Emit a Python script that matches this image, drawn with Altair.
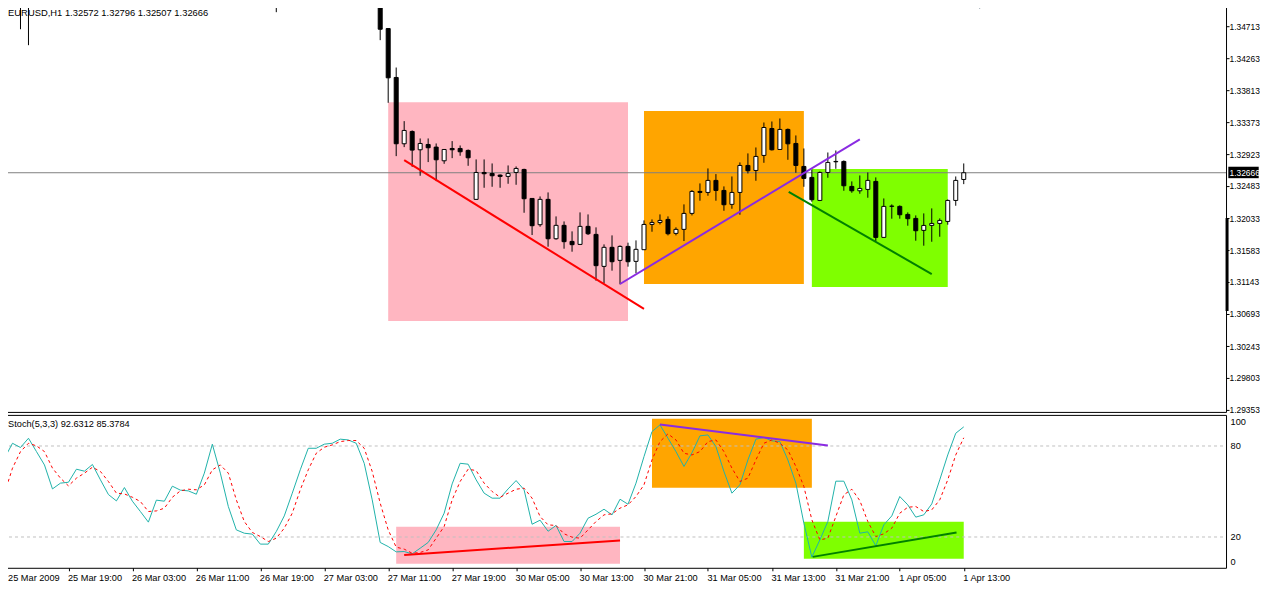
import altair as alt
import pandas as pd

FONT = "Liberation Sans"
FS = 9.2
AXIS_FS = 8.4

bar_index = [1, 2, 3, 32, 34] + list(range(47, 121))
open_ = [1.356,1.356,1.356,1.356,1.356,
 1.35400,1.34680,1.33997,1.33071,1.33243,1.32987,1.33061,1.33024,1.32833,1.33005,
 1.33005,1.32978,1.32294,1.32670,1.32656,1.32633,1.32615,1.32670,1.32712,1.32307,
 1.31940,1.32294,1.31744,1.31931,1.31707,1.31665,1.31917,1.31805,1.31358,1.31624,
 1.31442,1.31637,1.31428,1.31591,1.31944,1.31972,1.32014,1.31819,1.31875,1.32098,
 1.32405,1.32391,1.32559,1.32419,1.32224,1.32391,1.32768,1.32698,1.32908,1.33284,
 1.32991,1.33271,1.33075,1.32754,1.32601,1.32279,1.32670,1.32819,1.32824,1.32475,
 1.32414,1.32433,1.32545,1.31763,1.32196,1.32196,1.32084,1.32028,1.31861,1.31930,
 1.31958,1.31986,1.32279,1.32572]
high = [1.358,1.358,1.358,1.358,1.358,
 1.35600,1.34680,1.34136,1.33387,1.33257,1.33145,1.33145,1.33075,1.32991,1.33108,
 1.33047,1.32991,1.32852,1.32852,1.32796,1.32642,1.32768,1.32754,1.32722,1.32307,
 1.32335,1.32391,1.32056,1.31986,1.31847,1.32112,1.32084,1.31903,1.31665,1.31791,
 1.31651,1.31689,1.31721,1.32000,1.32014,1.32084,1.32056,1.31903,1.32224,1.32424,
 1.32517,1.32726,1.32647,1.32475,1.32614,1.32810,1.32936,1.33019,1.33368,1.33382,
 1.33424,1.33284,1.33187,1.33005,1.32712,1.32684,1.32949,1.32977,1.32838,1.32545,
 1.32628,1.32670,1.32601,1.32307,1.32224,1.32210,1.32112,1.32070,1.32098,1.32168,
 1.32028,1.32293,1.32614,1.32796]
low = [1.35006,1.34671,1.34448,1.35006,1.34909,
 1.34518,1.33643,1.32898,1.33024,1.32749,1.32624,1.32815,1.32549,1.32791,1.32870,
 1.32903,1.32763,1.32294,1.32456,1.32470,1.32456,1.32512,1.32498,1.32107,1.31796,
 1.31912,1.31633,1.31731,1.31605,1.31563,1.31656,1.31796,1.31158,1.31121,1.31298,
 1.31107,1.31354,1.31261,1.31591,1.31842,1.31944,1.31791,1.31791,1.31712,1.32070,
 1.32275,1.32345,1.32275,1.32135,1.32163,1.32079,1.32656,1.32554,1.32805,1.32977,
 1.32991,1.32847,1.32666,1.32470,1.32261,1.32270,1.32596,1.32721,1.32414,1.32386,
 1.32373,1.32317,1.31707,1.31763,1.32024,1.32024,1.31926,1.31716,1.31647,1.31702,
 1.31772,1.31940,1.32205,1.32507]
close = [1.355,1.355,1.355,1.355,1.355,
 1.34671,1.33992,1.33071,1.33257,1.32982,1.33075,1.33015,1.32847,1.32991,1.32987,
 1.32959,1.32875,1.32670,1.32652,1.32624,1.32615,1.32656,1.32726,1.32303,1.31926,
 1.32294,1.31744,1.31931,1.31703,1.31661,1.31917,1.31814,1.31368,1.31624,1.31423,
 1.31637,1.31423,1.31596,1.31944,1.31972,1.32000,1.31814,1.31875,1.32098,1.32405,
 1.32391,1.32559,1.32419,1.32219,1.32391,1.32768,1.32694,1.32894,1.33298,1.32987,
 1.33271,1.33070,1.32768,1.32587,1.32289,1.32670,1.32810,1.32824,1.32484,1.32414,
 1.32447,1.32559,1.31763,1.32196,1.32200,1.32079,1.32024,1.31856,1.31930,1.31958,
 1.32000,1.32279,1.32559,1.32666]

stoch_main = [71.9,81.8,79.0,85.1,76.3,67.5,51.7,55.5,56.1,64.7,
 63.4,67.8,57.7,48.0,43.8,52.6,43.6,36.8,29.8,44.3,
 43.6,53.5,50.9,50.4,48.2,62.1,81.2,62.1,40.1,24.7,
 22.5,21.9,15.3,15.3,23.6,33.9,48.9,64.3,78.5,78.5,
 81.2,81.8,84.5,84.0,81.8,68.6,44.5,16.4,13.7,10.2,
 10.4,8.9,12.6,16.4,24.7,35.7,55.0,68.6,68.0,57.7,
 48.9,45.6,45.6,51.7,57.2,51.1,28.4,31.1,23.8,27.6,
 17.0,17.0,22.5,32.4,35.0,38.3,34.6,44.9,41.6,55.5,
 73.0,89.5,93.9,85.1,76.3,66.5,75.5,86.7,87.3,79.6,
 63.2,48.9,54.4,70.8,84.5,85.6,83.4,82.9,70.8,55.5,
 29.1,6.7,18.1,30.2,56.8,56.8,44.5,22.5,23.4,14.2,
 28.0,33.9,46.7,41.2,33.1,34.6,41.8,57.7,74.1,88.4,
 92.6]
stoch_signal = [48.9,65.4,76.3,81.8,80.1,76.3,65.4,58.8,53.7,58.8,
 62.1,66.0,63.2,56.6,48.9,48.4,46.2,43.4,36.8,37.2,
 39.0,46.2,50.4,51.5,51.1,54.4,64.3,67.5,62.1,44.5,
 30.2,23.0,20.3,17.0,19.2,25.8,35.7,51.1,64.3,75.2,
 79.2,80.7,82.9,83.6,83.6,78.5,63.2,42.3,24.7,13.3,
 12.0,9.3,9.8,11.5,19.2,26.9,44.5,56.6,64.7,63.8,
 55.5,50.0,46.2,48.9,51.5,52.2,45.6,33.5,28.0,27.6,
 22.1,19.9,19.2,24.7,30.2,34.6,35.3,39.0,41.2,46.7,
 54.4,70.8,82.9,88.0,84.0,75.2,74.1,76.3,82.9,84.0,
 76.3,65.4,56.6,58.8,70.8,81.8,84.0,81.8,77.4,66.5,
 53.3,31.3,18.1,19.2,33.5,47.8,51.5,44.0,30.2,20.3,
 22.1,25.8,35.7,39.6,40.1,36.8,37.9,44.5,57.7,74.1,
 85.4]

price_ticks = [1.34713,1.34263,1.33813,1.33373,1.32923,1.32483,1.32033,1.31583,
               1.31143,1.30693,1.30243,1.29803,1.29353]
time_ticks = list(range(0, 121, 8))
time_labels = ["25 Mar 2009","25 Mar 19:00","26 Mar 03:00","26 Mar 11:00","26 Mar 19:00",
               "27 Mar 03:00","27 Mar 11:00","27 Mar 19:00","30 Mar 05:00","30 Mar 13:00",
               "30 Mar 21:00","31 Mar 05:00","31 Mar 13:00","31 Mar 21:00","1 Apr 05:00","1 Apr 13:00"]
current_price = 1.32666

price_zones = pd.DataFrame({
    "x0": [48, 80, 101], "x1": [78, 100, 118],
    "top": [1.33652, 1.33527, 1.32717], "bot": [1.30595, 1.31112, 1.31070],
    "c": ["#FFB6C1", "#FFA500", "#7FFF00"]})
stoch_zones = pd.DataFrame({
    "x0": [49, 81, 100], "x1": [77, 101, 120],
    "top": [26.7, 97.9, 30.0], "bot": [2.3, 52.4, 5.6],
    "c": ["#FFB6C1", "#FFA500", "#7FFF00"]})
price_trends = pd.DataFrame({
    "x0": [50, 77, 98.1], "x1": [80, 107, 116],
    "y0": [1.32843, 1.31112, 1.32400], "y1": [1.30763, 1.33132, 1.31251],
    "c": ["#FF0000", "#8A2BE2", "#008000"]})
stoch_trends = pd.DataFrame({
    "x0": [50, 82, 101.1], "x1": [77, 103, 119.1],
    "y0": [8.2, 94.1, 6.9], "y1": [17.7, 80.3, 22.9],
    "c": ["#FF0000", "#8A2BE2", "#008000"]})

candles = pd.DataFrame({"k": bar_index, "o": open_, "h": high, "l": low, "c": close})
candles["dir"] = ["up" if c >= o else "down" for o, c in zip(open_, close)]
stoch = pd.DataFrame({"k": list(range(121)), "main": stoch_main, "sig": stoch_signal})

X_SCALE = alt.Scale(domain=[-0.1875, 152.8125], nice=False, zero=False, padding=0)
P_SCALE = alt.Scale(domain=[1.29325, 1.35034], nice=False, zero=False, padding=0)
S_SCALE = alt.Scale(domain=[-0.3, 100.5], nice=False, zero=False, padding=0)

price_axis = alt.Axis(orient="right", values=price_ticks, format=".5f", title=None, grid=False,
                      domain=False, tickSize=3, tickColor="#000000", labelFont=FONT, labelFontSize=AXIS_FS,
                      labelColor="#000000", labelPadding=0, labelOverlap=False, labelBound=False)
stoch_axis = alt.Axis(orient="right", values=[95.9, 80, 20, 3.8],
                      labelExpr="{'95.9':'100','80':'80','20':'20','3.8':'0'}[datum.value + '']",
                      title=None, grid=False, domain=False, ticks=False, labelFont=FONT, labelFontSize=FS,
                      labelColor="#000000", labelPadding=4, labelBound=False, labelOverlap=False)
time_axis = alt.Axis(values=time_ticks, title=None, grid=False, domain=False, tickSize=3, tickColor="#000000",
                     labelAlign="left", labelFont=FONT, labelFontSize=FS, labelColor="#000000", labelPadding=3,
                     labelOffset=-1, labelOverlap=False, labelBound=False, labelFlush=False,
                     labelExpr="datum.value == 0 ? '' : %s[datum.value / 8]" % str(time_labels))


def px(field, axis):
    return alt.X(field, scale=X_SCALE, axis=axis)


def py(field):
    return alt.Y(field, scale=P_SCALE, axis=price_axis)


def sy(field):
    return alt.Y(field, scale=S_SCALE, axis=stoch_axis)


def zones(df, xaxis, yf):
    return alt.Chart(df).mark_rect(clip=True).encode(
        x=px("x0:Q", xaxis), x2="x1:Q", y=yf("top:Q"), y2="bot:Q",
        color=alt.Color("c:N", scale=None))


def trends(df, xaxis, yf):
    base = []
    for _, r in df.iterrows():
        d = pd.DataFrame({"k": [r["x0"], r["x1"]], "v": [r["y0"], r["y1"]]})
        base.append(alt.Chart(d).mark_line(color=r["c"], strokeWidth=2, clip=True).encode(
            x=px("k:Q", xaxis), y=yf("v:Q")))
    return base


def label(text, k, v, xaxis, yf, font=FONT, size=FS, **kw):
    d = pd.DataFrame({"k": [k], "v": [v], "t": [text]})
    return alt.Chart(d).mark_text(font=font, fontSize=size, align="left", baseline="middle", **kw).encode(
        x=px("k:Q", xaxis), y=yf("v:Q"), text="t:N")


price_line = alt.Chart(pd.DataFrame({"k": [-0.1875], "k2": [152.8125], "v": [current_price]})).mark_rule(
    color="#808080", strokeWidth=1).encode(x=px("k:Q", None), x2="k2:Q", y=py("v:Q"))
wicks = alt.Chart(candles).mark_rule(color="#000000", strokeWidth=1, clip=True).encode(
    x=px("k:Q", None), y=py("l:Q"), y2="h:Q")
bodies = alt.Chart(candles).mark_bar(size=4, stroke="#000000", strokeWidth=1, clip=True).encode(
    x=px("k:Q", None), y=py("o:Q"), y2="c:Q",
    fill=alt.Fill("dir:N", scale=alt.Scale(domain=["up", "down"], range=["#FFFFFF", "#000000"]), legend=None))
marker = alt.Chart(pd.DataFrame({"k": [122], "v": [1.34999]})).mark_point(
    shape="triangle-down", filled=True, color="#708090", size=60, opacity=1).encode(
    x=px("k:Q", None), y=py("v:Q"))
range_bar = alt.Chart(pd.DataFrame({"k": [152.94], "a": [1.30735], "b": [1.32033]})).mark_rule(
    color="#000000", strokeWidth=3).encode(x=px("k:Q", None), y=py("a:Q"), y2="b:Q")
price_box = alt.Chart(pd.DataFrame({"a": [153.1], "b": [156.9], "t": [1.32750], "u": [1.32590]})).mark_rect(
    color="#000000").encode(x=px("a:Q", None), x2="b:Q", y=py("t:Q"), y2="u:Q")

top = alt.layer(
    zones(price_zones, None, py), price_line, wicks, bodies,
    *trends(price_trends, None, py), range_bar, price_box, marker,
    label("1.32666", 153.25, current_price, None, py, size=AXIS_FS, color="#FFFFFF"),
    label("EURUSD,H1  1.32572 1.32796 1.32507 1.32666", 0.45, 1.34895, None, py, size=9.4, color="#000000"),
).properties(width=1224, height=409)

levels = alt.Chart(pd.DataFrame({"k": [-0.1875], "k2": [152.8125], "v": [80]})).mark_rule(
    color="#C0C0C0", strokeWidth=1, strokeDash=[3, 3]).encode(x=px("k:Q", time_axis), x2="k2:Q", y=sy("v:Q"))
levels2 = alt.Chart(pd.DataFrame({"k": [-0.1875], "k2": [152.8125], "v": [20]})).mark_rule(
    color="#C0C0C0", strokeWidth=1, strokeDash=[3, 3]).encode(x=px("k:Q", time_axis), x2="k2:Q", y=sy("v:Q"))
main_line = alt.Chart(stoch).mark_line(color="#20B2AA", strokeWidth=1, clip=True).encode(
    x=px("k:Q", time_axis), y=sy("main:Q"))
sig_line = alt.Chart(stoch).mark_line(color="#FF0000", strokeWidth=1, strokeDash=[3, 3], clip=True).encode(
    x=px("k:Q", time_axis), y=sy("sig:Q"))

bottom = alt.layer(
    zones(stoch_zones, time_axis, sy), levels, levels2, main_line, sig_line,
    *trends(stoch_trends, time_axis, sy),
    label("Stoch(5,3,3) 92.6312 85.3784", 0.45, 94.3, time_axis, sy, color="#000000"),
    label(time_labels[0], 0.45, -7.0, time_axis, sy, color="#000000"),
).properties(width=1224, height=153)

chart = alt.vconcat(top, bottom, spacing=-1).resolve_scale(x="independent", y="independent").properties(
    padding={"left": -6, "top": -7, "right": -1, "bottom": 0}, background="#FFFFFF"
).configure_view(stroke="#000000", strokeWidth=1)

chart.save("out.html", embed_options={"renderer": "svg", "actions": False})
